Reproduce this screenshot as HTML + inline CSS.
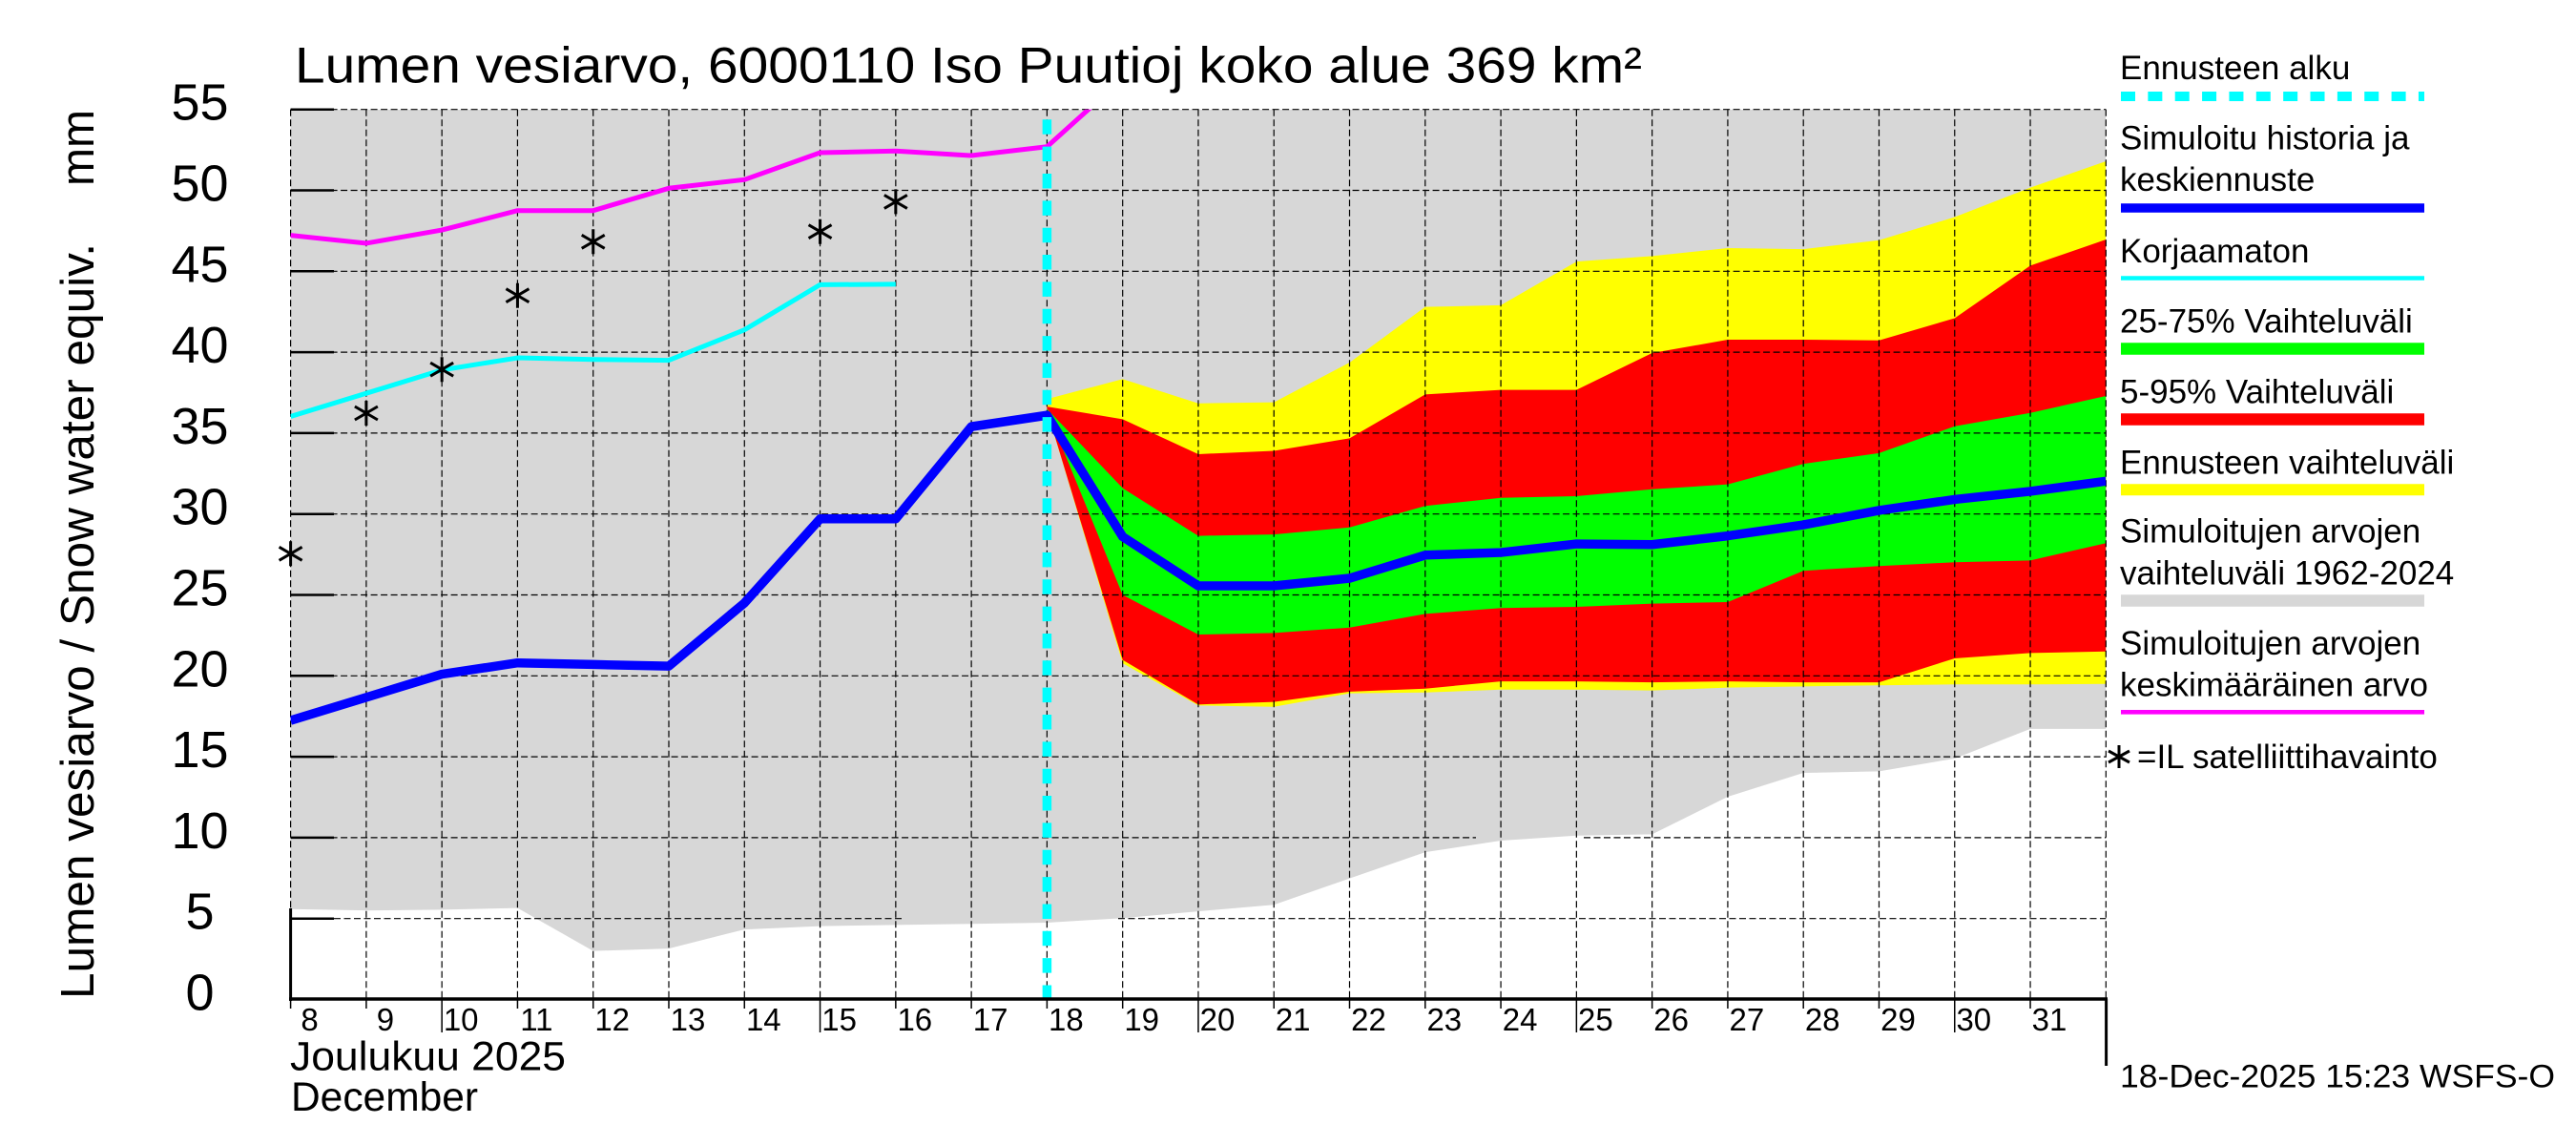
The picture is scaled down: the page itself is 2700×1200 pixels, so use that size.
<!DOCTYPE html>
<html>
<head>
<meta charset="utf-8">
<style>
html,body{margin:0;padding:0;background:#fff;}
svg{display:block;}
text{font-family:"Liberation Sans",Arial,Helvetica,sans-serif;fill:#000;}
</style>
</head>
<body>
<svg width="2700" height="1200" viewBox="0 0 2700 1200" xmlns="http://www.w3.org/2000/svg">
<defs>
<clipPath id="plot"><rect x="304.6" y="114.7" width="1902.7" height="932.8"/></clipPath>
</defs>
<rect x="0" y="0" width="2700" height="1200" fill="#fff"/>

<!-- Title -->
<text x="309" y="86.7" font-size="53" textLength="1412" lengthAdjust="spacingAndGlyphs">Lumen vesiarvo, 6000110 Iso Puutioj koko alue 369 km²</text>

<!-- Filled areas -->
<g clip-path="url(#plot)">
<g transform="matrix(79.28 0 0 -16.96 -329.64 1047.5)">
<polygon fill="#d7d7d7" points="8,55 32,55 32,16.72 31,16.72 30,14.89 29,14.1 28,14.0 27,12.53 26,10.21 25,10.13 24,9.82 23,9.1 22,7.48 21,5.85 20,5.45 19,5.03 18,4.75 17,4.67 16,4.61 15,4.53 14,4.33 13,3.15 12,3.0 11,5.65 10,5.55 9,5.5 8,5.59"/>
<polygon fill="#ffff00" points="18,37.1 19,38.34 20,36.84 21,36.9 22,39.36 23,42.8 24,42.9 25,45.6 26,45.94 27,46.43 28,46.37 29,46.92 30,48.35 31,50.17 32,51.8 32,19.5 31,19.47 30,19.47 29,19.41 28,19.35 27,19.27 26,19.1 25,19.15 24,19.15 23,18.97 22,18.92 21,18.09 20,18.17 19,20.78 18,36.4"/>
<polygon fill="#ff0000" points="18,36.64 19,35.86 20,33.7 21,33.9 22,34.68 23,37.39 24,37.67 25,37.67 26,39.95 27,40.77 28,40.77 29,40.73 30,42.1 31,45.35 32,46.96 32,21.51 31,21.41 30,21.08 29,19.6 28,19.6 27,19.66 26,19.6 25,19.66 24,19.66 23,19.21 22,19.02 21,18.39 20,18.23 19,20.98 18,36.4"/>
<polygon fill="#00ff00" points="18,36.5 19,31.6 20,28.65 21,28.74 22,29.17 23,30.5 24,31.0 25,31.1 26,31.53 27,31.83 28,33.1 29,33.76 30,35.42 31,36.25 32,37.29 32,28.2 31,27.13 30,27.02 29,26.78 28,26.49 27,24.56 26,24.46 25,24.26 24,24.19 23,23.83 22,22.98 21,22.65 20,22.55 19,25.0 18,36.4"/>
</g>
</g>

<!-- Grid lines -->
<g stroke="#000" stroke-width="1.2" stroke-dasharray="7 3.5" fill="none">
<line x1="350" y1="962.7" x2="947" y2="962.7"/>
<line x1="1172" y1="962.7" x2="2207.3" y2="962.7"/>
<line x1="304.6" y1="877.9" x2="1547" y2="877.9"/>
<line x1="1660" y1="877.9" x2="2207.3" y2="877.9"/>
<line x1="304.6" y1="793.1" x2="2207.3" y2="793.1"/>
<line x1="304.6" y1="708.3" x2="2207.3" y2="708.3"/>
<line x1="304.6" y1="623.5" x2="2207.3" y2="623.5"/>
<line x1="304.6" y1="538.7" x2="2207.3" y2="538.7"/>
<line x1="304.6" y1="453.9" x2="2207.3" y2="453.9"/>
<line x1="304.6" y1="369.1" x2="2207.3" y2="369.1"/>
<line x1="304.6" y1="284.3" x2="2207.3" y2="284.3"/>
<line x1="304.6" y1="199.5" x2="2207.3" y2="199.5"/>
<line x1="304.6" y1="114.7" x2="2207.3" y2="114.7"/>

<line x1="304.6" y1="114.7" x2="304.6" y2="952"/>
<line x1="383.88" y1="114.7" x2="383.88" y2="1047.5"/>
<line x1="463.16" y1="114.7" x2="463.16" y2="1047.5"/>
<line x1="542.44" y1="114.7" x2="542.44" y2="1047.5"/>
<line x1="621.72" y1="114.7" x2="621.72" y2="1047.5"/>
<line x1="701.0" y1="114.7" x2="701.0" y2="1047.5"/>
<line x1="780.28" y1="114.7" x2="780.28" y2="1047.5"/>
<line x1="859.56" y1="114.7" x2="859.56" y2="1047.5"/>
<line x1="938.84" y1="114.7" x2="938.84" y2="1047.5"/>
<line x1="1018.12" y1="114.7" x2="1018.12" y2="1047.5"/>
<line x1="1097.4" y1="114.7" x2="1097.4" y2="1047.5"/>
<line x1="1176.68" y1="114.7" x2="1176.68" y2="1047.5"/>
<line x1="1255.96" y1="114.7" x2="1255.96" y2="1047.5"/>
<line x1="1335.24" y1="114.7" x2="1335.24" y2="1047.5"/>
<line x1="1414.52" y1="114.7" x2="1414.52" y2="1047.5"/>
<line x1="1493.8" y1="114.7" x2="1493.8" y2="1047.5"/>
<line x1="1573.08" y1="114.7" x2="1573.08" y2="1047.5"/>
<line x1="1652.36" y1="114.7" x2="1652.36" y2="1047.5"/>
<line x1="1731.64" y1="114.7" x2="1731.64" y2="1047.5"/>
<line x1="1810.92" y1="114.7" x2="1810.92" y2="1047.5"/>
<line x1="1890.2" y1="114.7" x2="1890.2" y2="1047.5"/>
<line x1="1969.48" y1="114.7" x2="1969.48" y2="1047.5"/>
<line x1="2048.76" y1="114.7" x2="2048.76" y2="1047.5"/>
<line x1="2128.04" y1="114.7" x2="2128.04" y2="1047.5"/>
<line x1="2207.32" y1="114.7" x2="2207.32" y2="1047.5"/>
</g>

<!-- Series lines -->
<g clip-path="url(#plot)">
<g transform="matrix(79.28 0 0 -16.96 -329.64 1047.5)" fill="none" stroke-linejoin="round">
<polyline vector-effect="non-scaling-stroke" stroke="#ff00ff" stroke-width="5" points="8,47.22 9,46.73 10,47.55 11,48.75 12,48.75 13,50.13 14,50.66 15,52.33 16,52.43 17,52.15 18,52.7 19,56.9"/>
<polyline vector-effect="non-scaling-stroke" stroke="#00ffff" stroke-width="5" points="8,36.03 9,37.46 10,38.9 11,39.65 12,39.55 13,39.5 14,41.38 15,44.17 16,44.2"/>
<polyline vector-effect="non-scaling-stroke" stroke="#0000ff" stroke-width="9.5" points="8,17.24 9,18.67 10,20.1 11,20.8 12,20.7 13,20.6 14,24.5 15,29.7 16,29.7 17,35.4 18,36.1 19,28.6 20,25.56 21,25.56 22,26.03 23,27.46 24,27.62 25,28.15 26,28.11 27,28.65 28,29.33 29,30.22 30,30.9 31,31.4 32,32.03"/>
</g>
</g>

<!-- Satellite observations (asterisks) -->
<g stroke="#000" stroke-width="3" fill="none">
<path d="M304.6,567.3V593.3M292.6,573.3L316.6,587.3M292.6,587.3L316.6,573.3"/>
<path d="M383.88,420V446M371.88,426L395.88,440M371.88,440L395.88,426"/>
<path d="M463.16,374.2V400.2M451.16,380.2L475.16,394.2M451.16,394.2L475.16,380.2"/>
<path d="M542.44,296.7V322.7M530.44,302.7L554.44,316.7M530.44,316.7L554.44,302.7"/>
<path d="M621.72,240.3V266.3M609.72,246.3L633.72,260.3M609.72,260.3L633.72,246.3"/>
<path d="M859.56,229.7V255.7M847.56,235.7L871.56,249.7M847.56,249.7L871.56,235.7"/>
<path d="M938.84,198.4V224.4M926.84,204.4L950.84,218.4M926.84,218.4L950.84,204.4"/>
</g>

<!-- Forecast start vertical dashed line -->
<line x1="1097.4" y1="1048" x2="1097.4" y2="115" stroke="#00ffff" stroke-width="9.5" stroke-dasharray="15.5 12.85"/>

<!-- Axes -->
<g stroke="#000" fill="none">
<line x1="303" y1="1047" x2="2209" y2="1047" stroke-width="3.5"/>
<line x1="304.6" y1="952" x2="304.6" y2="1049" stroke-width="3"/>
<line x1="2207.6" y1="1047" x2="2207.6" y2="1117" stroke-width="3"/>
<!-- y ticks -->
<g stroke-width="2.5">
<line x1="304.6" y1="962.7" x2="350" y2="962.7"/>
<line x1="304.6" y1="877.9" x2="350" y2="877.9"/>
<line x1="304.6" y1="793.1" x2="350" y2="793.1"/>
<line x1="304.6" y1="708.3" x2="350" y2="708.3"/>
<line x1="304.6" y1="623.5" x2="350" y2="623.5"/>
<line x1="304.6" y1="538.7" x2="350" y2="538.7"/>
<line x1="304.6" y1="453.9" x2="350" y2="453.9"/>
<line x1="304.6" y1="369.1" x2="350" y2="369.1"/>
<line x1="304.6" y1="284.3" x2="350" y2="284.3"/>
<line x1="304.6" y1="199.5" x2="350" y2="199.5"/>
<line x1="304.6" y1="114.7" x2="350" y2="114.7"/>
</g>
<!-- x ticks -->
<g stroke-width="1.5">
<line x1="304.6" y1="1048" x2="304.6" y2="1057"/>
<line x1="383.88" y1="1048" x2="383.88" y2="1057"/>
<line x1="463.16" y1="1048" x2="463.16" y2="1082"/>
<line x1="542.44" y1="1048" x2="542.44" y2="1057"/>
<line x1="621.72" y1="1048" x2="621.72" y2="1057"/>
<line x1="701.0" y1="1048" x2="701.0" y2="1057"/>
<line x1="780.28" y1="1048" x2="780.28" y2="1057"/>
<line x1="859.56" y1="1048" x2="859.56" y2="1082"/>
<line x1="938.84" y1="1048" x2="938.84" y2="1057"/>
<line x1="1018.12" y1="1048" x2="1018.12" y2="1057"/>
<line x1="1097.4" y1="1048" x2="1097.4" y2="1057"/>
<line x1="1176.68" y1="1048" x2="1176.68" y2="1057"/>
<line x1="1255.96" y1="1048" x2="1255.96" y2="1082"/>
<line x1="1335.24" y1="1048" x2="1335.24" y2="1057"/>
<line x1="1414.52" y1="1048" x2="1414.52" y2="1057"/>
<line x1="1493.8" y1="1048" x2="1493.8" y2="1057"/>
<line x1="1573.08" y1="1048" x2="1573.08" y2="1057"/>
<line x1="1652.36" y1="1048" x2="1652.36" y2="1082"/>
<line x1="1731.64" y1="1048" x2="1731.64" y2="1057"/>
<line x1="1810.92" y1="1048" x2="1810.92" y2="1057"/>
<line x1="1890.2" y1="1048" x2="1890.2" y2="1057"/>
<line x1="1969.48" y1="1048" x2="1969.48" y2="1057"/>
<line x1="2048.76" y1="1048" x2="2048.76" y2="1082"/>
<line x1="2128.04" y1="1048" x2="2128.04" y2="1057"/>
</g>
</g>

<!-- Y tick labels -->
<g font-size="54" text-anchor="middle">
<text x="209.5" y="1058.5">0</text>
<text x="209.5" y="973.7">5</text>
<text x="209.5" y="888.9">10</text>
<text x="209.5" y="804.1">15</text>
<text x="209.5" y="719.3">20</text>
<text x="209.5" y="634.5">25</text>
<text x="209.5" y="549.7">30</text>
<text x="209.5" y="464.9">35</text>
<text x="209.5" y="380.1">40</text>
<text x="209.5" y="295.3">45</text>
<text x="209.5" y="210.5">50</text>
<text x="209.5" y="125.7">55</text>
</g>

<!-- Y axis title -->
<text transform="translate(98,1047) rotate(-90)" font-size="49" textLength="792" lengthAdjust="spacingAndGlyphs">Lumen vesiarvo / Snow water equiv.</text>
<text transform="translate(98,195) rotate(-90)" font-size="49" textLength="80" lengthAdjust="spacingAndGlyphs">mm</text>

<!-- X tick labels -->
<g font-size="33" text-anchor="middle">
<text x="324.6" y="1080">8</text>
<text x="403.9" y="1080">9</text>
<text x="483.2" y="1080">10</text>
<text x="562.4" y="1080">11</text>
<text x="641.7" y="1080">12</text>
<text x="721.0" y="1080">13</text>
<text x="800.3" y="1080">14</text>
<text x="879.6" y="1080">15</text>
<text x="958.8" y="1080">16</text>
<text x="1038.1" y="1080">17</text>
<text x="1117.4" y="1080">18</text>
<text x="1196.7" y="1080">19</text>
<text x="1276.0" y="1080">20</text>
<text x="1355.2" y="1080">21</text>
<text x="1434.5" y="1080">22</text>
<text x="1513.8" y="1080">23</text>
<text x="1593.1" y="1080">24</text>
<text x="1672.4" y="1080">25</text>
<text x="1751.6" y="1080">26</text>
<text x="1830.9" y="1080">27</text>
<text x="1910.2" y="1080">28</text>
<text x="1989.5" y="1080">29</text>
<text x="2068.8" y="1080">30</text>
<text x="2148.0" y="1080">31</text>
</g>
<text x="304" y="1121.7" font-size="43" textLength="289" lengthAdjust="spacingAndGlyphs">Joulukuu  2025</text>
<text x="305" y="1164" font-size="43" textLength="196" lengthAdjust="spacingAndGlyphs">December</text>

<!-- Timestamp -->
<text x="2222" y="1139.3" font-size="34" textLength="456" lengthAdjust="spacingAndGlyphs">18-Dec-2025 15:23 WSFS-O</text>

<!-- Legend -->
<g font-size="35">
<text x="2222" y="83">Ennusteen alku</text>
<text x="2222" y="156.7">Simuloitu historia ja</text>
<text x="2222" y="200">keskiennuste</text>
<text x="2222" y="275">Korjaamaton</text>
<text x="2222" y="348.3">25-75% Vaihteluväli</text>
<text x="2222" y="422.7">5-95% Vaihteluväli</text>
<text x="2222" y="496.7">Ennusteen vaihteluväli</text>
<text x="2222" y="568.3">Simuloitujen arvojen</text>
<text x="2222" y="612.3">vaihteluväli 1962-2024</text>
<text x="2222" y="686">Simuloitujen arvojen</text>
<text x="2222" y="729.3">keskimääräinen arvo</text>
<text x="2240" y="805">=IL satelliittihavainto</text>
</g>
<line x1="2223" y1="101" x2="2541" y2="101" stroke="#00ffff" stroke-width="10" stroke-dasharray="15 13.36"/>
<line x1="2223" y1="218" x2="2541" y2="218" stroke="#0000ff" stroke-width="9.4"/>
<line x1="2223" y1="291.5" x2="2541" y2="291.5" stroke="#00ffff" stroke-width="4.5"/>
<line x1="2223" y1="365.5" x2="2541" y2="365.5" stroke="#00ff00" stroke-width="12.4"/>
<line x1="2223" y1="439.5" x2="2541" y2="439.5" stroke="#ff0000" stroke-width="12.4"/>
<line x1="2223" y1="513.3" x2="2541" y2="513.3" stroke="#ffff00" stroke-width="12"/>
<line x1="2223" y1="629.5" x2="2541" y2="629.5" stroke="#d7d7d7" stroke-width="12.4"/>
<line x1="2223" y1="746.3" x2="2541" y2="746.3" stroke="#ff00ff" stroke-width="4.7"/>
<path d="M2221,781V805M2210,787L2232,799M2210,799L2232,787" stroke="#000" stroke-width="3" fill="none"/>
</svg>
</body>
</html>
